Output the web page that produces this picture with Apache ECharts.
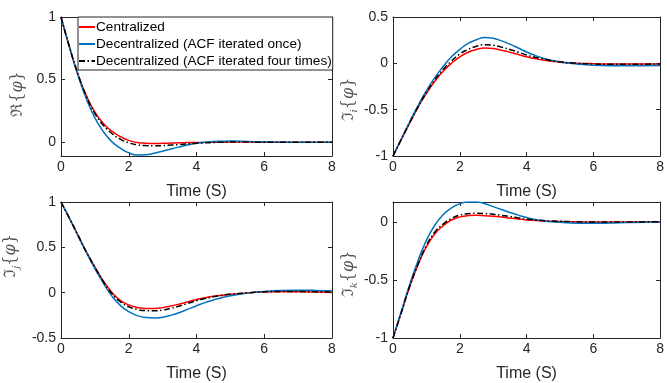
<!DOCTYPE html>
<html>
<head>
<meta charset="utf-8">
<script src="https://cdn.jsdelivr.net/npm/echarts@6/dist/echarts.min.js"></script>
<style>
html,body{margin:0;padding:0;background:#fff;}
#c{width:667px;height:383px;}
</style>
</head>
<body>
<div id="c"></div>
<script>
// ---- data ----
const T = [0,0.25,0.5,0.75,1,1.25,1.5,1.75,2,2.25,2.5,2.75,3,3.25,3.5,3.75,4,4.25,4.5,4.75,5,5.5,6,6.5,7,7.5,8];
const seriesNames = ['Centralized','Decentralized (ACF iterated once)','Decentralized (ACF iterated four times)'];
const xTicks = [0,2,4,6,8];

const reRed   = [1,0.76,0.545,0.37,0.24,0.15,0.088,0.045,0.015,-0.002,-0.008,-0.01,-0.009,-0.007,-0.005,-0.003,-0.002,-0.001,0,0.0005,0.001,0.001,0,0,0,0,0];
const reBlue  = [1,0.76,0.535,0.345,0.195,0.085,0.005,-0.048,-0.085,-0.102,-0.1,-0.088,-0.072,-0.054,-0.037,-0.021,-0.008,0,0.006,0.008,0.009,0.006,0.003,0.001,0,0,0];
const reBlack = [1,0.76,0.545,0.365,0.23,0.135,0.07,0.025,-0.005,-0.02,-0.027,-0.029,-0.027,-0.023,-0.018,-0.013,-0.008,-0.005,-0.002,0,0.001,0.001,0,0,0,0,0];

const iRed    = [-1,-0.82,-0.645,-0.475,-0.325,-0.195,-0.085,0.0,0.07,0.12,0.15,0.165,0.16,0.142,0.12,0.095,0.07,0.051,0.035,0.023,0.013,0.002,-0.004,-0.007,-0.008,-0.007,-0.006];
const iBlue   = [-1,-0.815,-0.63,-0.455,-0.295,-0.155,-0.035,0.07,0.15,0.215,0.255,0.278,0.27,0.242,0.207,0.165,0.122,0.086,0.055,0.032,0.015,-0.008,-0.02,-0.025,-0.026,-0.025,-0.023];
const iBlack  = [-1,-0.82,-0.64,-0.47,-0.315,-0.18,-0.065,0.025,0.1,0.15,0.185,0.2,0.195,0.175,0.15,0.12,0.09,0.066,0.045,0.029,0.016,0,-0.007,-0.01,-0.01,-0.009,-0.007];

const jRed    = [1,0.82,0.635,0.45,0.285,0.13,0.005,-0.085,-0.135,-0.163,-0.175,-0.175,-0.165,-0.147,-0.125,-0.1,-0.075,-0.056,-0.04,-0.028,-0.018,-0.003,0.006,0.009,0.009,0.006,0.002];
const jBlue   = [1,0.82,0.63,0.44,0.265,0.105,-0.035,-0.14,-0.21,-0.253,-0.275,-0.28,-0.27,-0.248,-0.218,-0.182,-0.145,-0.11,-0.08,-0.055,-0.035,-0.005,0.013,0.024,0.027,0.025,0.02];
const jBlack  = [1,0.82,0.635,0.448,0.28,0.122,-0.01,-0.1,-0.155,-0.185,-0.198,-0.2,-0.192,-0.172,-0.148,-0.118,-0.088,-0.064,-0.045,-0.03,-0.018,-0.002,0.01,0.014,0.014,0.011,0.008];

const kRed    = [-1,-0.78,-0.56,-0.37,-0.215,-0.105,-0.035,0.015,0.042,0.053,0.055,0.052,0.047,0.04,0.032,0.024,0.016,0.011,0.007,0.004,0.002,0,-0.002,-0.002,-0.001,0,0];
const kBlue   = [-1,-0.77,-0.54,-0.335,-0.16,-0.03,0.06,0.12,0.155,0.17,0.17,0.155,0.13,0.105,0.08,0.057,0.036,0.02,0.008,0,-0.005,-0.012,-0.013,-0.011,-0.007,-0.004,-0.001];
const kBlack  = [-1,-0.78,-0.555,-0.365,-0.205,-0.09,-0.02,0.028,0.057,0.07,0.073,0.071,0.065,0.055,0.045,0.033,0.022,0.015,0.01,0.006,0.004,0,-0.003,-0.003,-0.002,-0.001,0];

const yRange = [[-0.11,1],[-1,0.5],[-0.5,1],[-1,0.17]];
const yTicks = [[0,0.5,1],[-1,-0.5,0,0.5],[-0.5,0,0.5,1],[-1,-0.5,0]];
const yNames = ['ℜ{{v|φ}}','ℑ{s|i}{{v|φ}}','ℑ{s|j}{{v|φ}}','ℑ{s|k}{{v|φ}}'];
const panelData = [[reRed,reBlue,reBlack],[iRed,iBlue,iBlack],[jRed,jBlue,jBlack],[kRed,kBlue,kBlack]];

// ---- layout / style ----
const grids = [
  {left:61, top:17, width:271, height:139},
  {left:393, top:17, width:270, height:139},
  {left:61, top:202, width:271, height:139},
  {left:393, top:202, width:270, height:139}
];
const nameGaps = [33,34,40,34];
const namePads = [[0,15,0,0],[0,26,0,0],[0,0,0,28],[0,8,0,0]];
const colors = ['#ff0000','#0072bd','#000000'];
const axisCol = '#262626';
const labCol = '#555555';
const tickFont = {fontFamily:'Liberation Sans, Arial, sans-serif', fontSize:14, color:axisCol};

const xAxes = [], yAxes = [], series = [];
grids.forEach((g,p)=>{
  const base = {gridIndex:p, type:'value', min:0, max:8, interval:2,
    axisLine:{show:true,onZero:false,lineStyle:{color:axisCol,width:1}},
    axisTick:{show:true,inside:true,length:4,lineStyle:{color:axisCol},customValues:xTicks},
    splitLine:{show:false}};
  xAxes.push(Object.assign({}, base, {position:'bottom',
    axisLabel:Object.assign({margin:4, showMaxLabel:true, showMinLabel:true, customValues:xTicks}, tickFont),
    name:'Time (S)', nameLocation:'middle', nameGap:28,
    nameTextStyle:{fontFamily:'Liberation Sans, Arial, sans-serif', fontSize:16, color:axisCol}}));
  xAxes.push(Object.assign({}, base, {position:'top', axisLabel:{show:false}}));
  const ybase = {gridIndex:p, type:'value', min:yRange[p][0], max:yRange[p][1],
    axisLine:{show:true,onZero:false,lineStyle:{color:axisCol,width:1}},
    axisTick:{show:true,inside:true,length:4,lineStyle:{color:axisCol},customValues:yTicks[p]},
    splitLine:{show:false}};
  yAxes.push(Object.assign({}, ybase, {position:'left',
    axisLabel:Object.assign({margin:5, customValues:yTicks[p]}, tickFont),
    name:yNames[p], nameLocation:'middle', nameRotate:90, nameGap:nameGaps[p],
    nameTextStyle:{fontFamily:'DejaVu Serif, serif', fontSize:16, color:labCol, lineHeight:20, padding:namePads[p],
      rich:{
        s:{fontFamily:'DejaVu Serif, serif', fontStyle:'italic', fontSize:10, color:labCol, verticalAlign:'bottom', lineHeight:13},
        v:{fontFamily:'DejaVu Serif, serif', fontStyle:'italic', fontSize:16, color:labCol, lineHeight:20}
      }}}));
  yAxes.push(Object.assign({}, ybase, {position:'right', axisLabel:{show:false}}));
  panelData[p].forEach((arr,k)=>{
    series.push({
      type:'line', name:seriesNames[k], xAxisIndex:2*p, yAxisIndex:2*p,
      data:T.map((t,i)=>[t,arr[i]]), symbol:'none', showSymbol:false, smooth:0.5,
      lineStyle:{color:colors[k], width:1.5, type: k===2 ? [6,2.5,1.5,2.5] : 'solid'},
      itemStyle:{color:colors[k]}, z: 2+k
    });
  });
});

const chart = echarts.init(document.getElementById('c'), null, {renderer:'canvas'});
chart.setOption({
  animation:false,
  backgroundColor:'#ffffff',
  grid:grids,
  xAxis:xAxes,
  yAxis:yAxes,
  legend:{
    data:seriesNames, orient:'vertical', left:78, top:17,
    backgroundColor:'#ffffff', borderColor:axisCol, borderWidth:1,
    padding:[3,1,2,0], itemGap:3, itemWidth:16, itemHeight:14,
    itemStyle:{opacity:0, color:'rgba(0,0,0,0)', borderWidth:0},
    textStyle:{fontFamily:'Liberation Sans, Arial, sans-serif', fontSize:13.6, color:'#000', lineHeight:14, padding:[0,0,0,-4]},
    selectedMode:false, z:10
  },
  series:series
});
</script>
</body>
</html>
